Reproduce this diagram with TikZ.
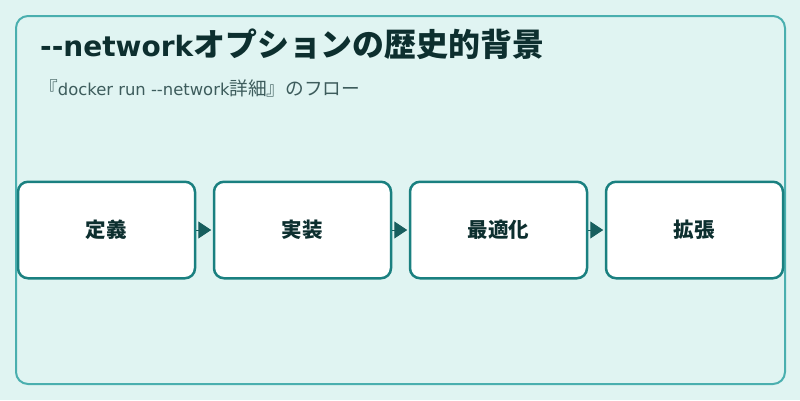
\documentclass[tikz,border=0pt]{standalone}
\usepackage{fontspec}
\setmainfont{DejaVu Sans}
\newfontfamily\jp{Noto Sans CJK JP}[Scale=1.14]
\usetikzlibrary{positioning,arrows.meta}

\definecolor{bgteal}{HTML}{E0F4F2}
\definecolor{frameteal}{HTML}{4AAFAF}
\definecolor{boxteal}{HTML}{1A8080}
\definecolor{arrowteal}{HTML}{175E5E}
\definecolor{titleink}{HTML}{0D2F2F}
\definecolor{subink}{HTML}{3D5C5C}

\begin{document}
\begin{tikzpicture}[x=1pt, y=-1pt, node distance={16.5pt},
  main/.style = {draw=boxteal, line width=2.5pt, fill=white, rounded corners=10pt,
    minimum width=177pt, minimum height=96.5pt, font=\jp\bfseries\fontsize{18}{22}\selectfont, text=titleink},
  flow/.style = {-{Triangle[length=13pt,width=17pt]}, arrowteal, line width=1pt, shorten >=1.5pt}]

\useasboundingbox (0,0) rectangle (800,400);
\fill[bgteal] (0,0) rectangle (800,400);
\draw[frameteal, line width=2pt, rounded corners=12pt] (16,16) rectangle (785,384);

\node[anchor=base west, text=titleink, font=\bfseries\fontsize{28}{32}\selectfont, inner sep=0pt] (title) at (40,56.5) {-{}-network{\jp オプションの歴史的背景}};
\node[anchor=base west, text=subink, font=\fontsize{16.4}{20}\selectfont, inner sep=0pt] (sub) at (39,95) {{\jp 『}docker run -{}-network{\jp 詳細』のフロー}};

\node[main] (1) at (106.5,230) {定義};
\node[main] (2) [right=of 1] {実装};
\node[main] (3) [right=of 2] {最適化};
\node[main] (4) [right=of 3] {拡張};

\draw[flow] (1) -- (2);
\draw[flow] (2) -- (3);
\draw[flow] (3) -- (4);

\end{tikzpicture}
\end{document}
